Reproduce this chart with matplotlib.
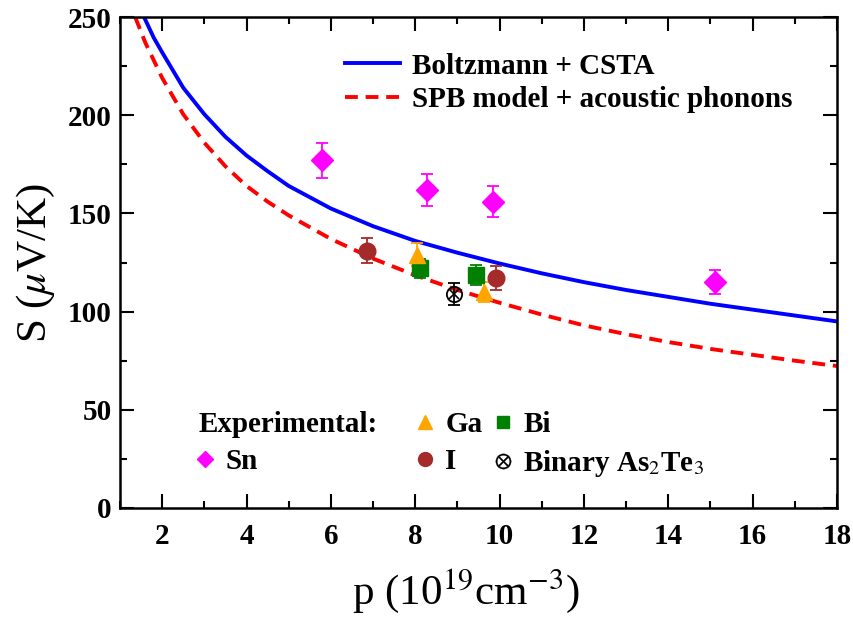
import matplotlib
matplotlib.use('Agg')
import matplotlib.pyplot as plt
from matplotlib.lines import Line2D
from matplotlib.ticker import MultipleLocator

plt.rcParams['font.family'] = 'Liberation Serif'
plt.rcParams['mathtext.fontset'] = 'stix'

# model curves
blue_p = [1.57, 1.8, 2.0, 2.5, 3.0, 3.5, 4.0, 4.5, 5.0, 6.0, 7.0, 8.0, 9.0, 10.0,
          11.0, 12.0, 13.0, 14.0, 15.0, 16.0, 17.0, 18.0]
blue_S = [250, 239.5, 232, 214, 200.5, 189, 179.5, 171.5, 164, 152.5, 143.5, 136, 130, 124.5,
          119.5, 115, 111, 107.5, 104, 101, 98, 95]
red_p = [1.36, 1.6, 2.0, 2.5, 3.0, 3.5, 4.0, 4.5, 5.0, 6.0, 7.0, 8.0, 9.0, 10.0,
         11.0, 12.0, 13.0, 14.0, 15.0, 16.0, 17.0, 18.0]
red_S = [250, 237, 219, 200.5, 186, 174, 164, 156, 149, 137, 127, 118.5, 111, 104.5,
         98.5, 93, 88.5, 84.5, 81, 78, 75, 72.3]

# experimental points
sn_p = [5.79, 8.27, 9.84, 15.12]
sn_S = [177, 162, 156, 115]
sn_err = [9, 8, 8, 6]
ga_p = [8.05, 9.64]
ga_S = [129, 110]
ga_err = [6, 5]
bi_p = [8.11, 9.45]
bi_S = [122, 118.5]
bi_err = [5, 5]
i_p = [6.86, 9.91]
i_S = [131, 117]
i_err = [6.5, 6]
bin_p = [8.91]
bin_S = [109]
bin_err = [5.5]

fig = plt.figure(figsize=(8.54, 6.17), dpi=100)
ax = fig.add_axes([0.1405, 0.1767, 0.8395, 0.7957])

l1, = ax.plot(blue_p, blue_S, color='#0000ff', lw=2.8, label='Boltzmann + CSTA')
l2, = ax.plot(red_p, red_S, color='#ff0000', lw=2.8, ls=(0, (3.3, 2.0)),
              label='SPB model + acoustic phonons')

ekw = dict(ls='none', capsize=4.5, elinewidth=1.3, capthick=1.3)
ax.errorbar(sn_p, sn_S, yerr=sn_err, marker='D', ms=11, color='#ff00ff', **ekw)
ax.errorbar(i_p, i_S, yerr=i_err, marker='o', ms=12, color='#a52a2a', **ekw)
ax.errorbar(bi_p, bi_S, yerr=bi_err, marker='s', ms=11, color='#008000', **ekw)
ax.errorbar(ga_p, ga_S, yerr=ga_err, marker='^', ms=12, color='#ffa500', **ekw)
ax.errorbar(bin_p, bin_S, yerr=bin_err, marker='o', ms=11, mfc='none', mec='black',
            mew=1.3, color='black', **ekw)
ax.plot(bin_p, bin_S, ls='none', marker='x', ms=7, mec='black', mew=1.2)

ax.set_xlim(1, 18)
ax.set_ylim(0, 250)
ax.xaxis.set_major_locator(MultipleLocator(2))
ax.xaxis.set_minor_locator(MultipleLocator(1))
ax.yaxis.set_major_locator(MultipleLocator(50))
ax.yaxis.set_minor_locator(MultipleLocator(25))
ax.tick_params(which='both', direction='in', top=True, right=True, width=1.5)
ax.tick_params(which='major', length=10, labelsize=21)
ax.tick_params(axis='x', which='major', pad=11)
ax.tick_params(axis='y', which='major', pad=6)
ax.tick_params(which='minor', length=5)
for lab in ax.get_xticklabels() + ax.get_yticklabels():
    lab.set_fontweight('bold')
for s in ax.spines.values():
    s.set_linewidth(1.8)

ax.set_xlabel(r'p (10$^{19}$cm$^{-3}$)', fontsize=31)
ax.xaxis.set_label_coords(0.482, -0.12)
ax.set_ylabel(r'S ($\mu$V/K)', fontsize=31, labelpad=8)

leg1 = ax.legend(handles=[l1, l2], loc='upper left', bbox_to_anchor=(0.277, 0.981),
                 frameon=False, prop={'weight': 'bold', 'size': 21},
                 handlelength=1.9, handletextpad=0.4, labelspacing=0.23)
ax.add_artist(leg1)

blank = Line2D([], [], ls='none')
h_sn = Line2D([], [], ls='none', marker='D', ms=8, color='#ff00ff')
h_ga = Line2D([], [], ls='none', marker='^', ms=10, color='#ffa500')
h_i = Line2D([], [], ls='none', marker='o', ms=10, color='#a52a2a')
h_bi = Line2D([], [], ls='none', marker='s', ms=9, color='#008000')
h_bin = Line2D([], [], ls='none', marker=r'$\otimes$', ms=11, color='black', mew=0.3)
leg2 = ax.legend(handles=[blank, h_sn, h_ga, h_i, h_bi, h_bin],
                 labels=['Experimental:', 'Sn', 'Ga', 'I', 'Bi', r'Binary As$_2$Te$_3$'],
                 ncol=3, loc='lower left', bbox_to_anchor=(0.0655, 0.005), frameon=False,
                 prop={'weight': 'bold', 'size': 21}, handlelength=0.8,
                 handletextpad=0.3, columnspacing=0.3, labelspacing=0.34)
# pull the "Experimental:" text back over its empty handle slot
leg2.get_texts()[0].set_position((-27, 0))

fig.savefig('out.png', dpi=100)
